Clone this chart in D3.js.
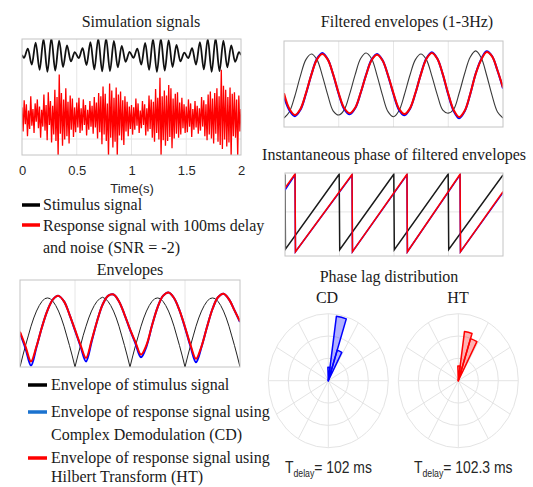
<!DOCTYPE html>
<html>
<head>
<meta charset="utf-8">
<style>
  body { margin: 0; background: #fff; }
  .serif { font-family: "Liberation Serif", "Times New Roman", serif; font-size: 16px; fill: #1a1a1a; }
  .sans { font-family: "Liberation Sans", Arial, sans-serif; fill: #262626; }
  .box { fill: none; stroke: #c4c4c4; stroke-width: 1; }
  .grid { stroke: #e6e6e6; stroke-width: 1; }
</style>
</head>
<body>
<script src="https://cdn.jsdelivr.net/npm/d3@7/dist/d3.min.js"></script>
<script>

// ---- data ----
var timeTicks = [0, 0.5, 1, 1.5, 2];
var timeLabels = ["0", "0.5", "1", "1.5", "2"];

// stimulus: extrema of the 14 Hz carrier (one every 1/28 s)
var stimPeaks = [
  -0.35, 0.8, -1.2, 1.55, -1.85, 2.0, -2.1, 2.1, -1.95, 1.8, -1.5, 1.2, -0.8, 0.35,
  -0.4, 0.85, -1.25, 1.6, -1.8, 2.05, -2.05, 2.1, -2.0, 1.75, -1.55, 1.15, -0.85, 0.4,
  -0.35, 0.8, -1.2, 1.5, -1.85, 2.0, -2.1, 2.05, -1.95, 1.85, -1.5, 1.25, -0.8, 0.3,
  -0.4, 0.85, -1.2, 1.6, -1.8, 2.0, -2.1, 2.1, -2.0, 1.8, -1.55, 1.2, -0.85, 0.35
];

// noisy response, one sample every 10 ms
var respNoisy = [
  1.2,-1.8,2.1,-0.9,1.6,-2.4,0.8,-1.5,2.6,-1.1, 1.0,-2.0,1.7,-0.6,2.2,-1.4,1.3,-2.6,0.9,-1.2,
  2.8,-1.7,1.5,-2.9,3.1,-1.0,2.0,-3.2,1.4,-2.2, 3.4,-3.0,2.5,-4.8,5.3,-2.1,3.0,-3.6,2.2,-2.8,
  3.6,-2.4,1.9,-3.3,2.7,-1.6,2.3,-2.5,1.2,-1.9,
  1.8,-1.3,2.4,-2.0,1.1,-1.7,2.2,-1.0,1.5,-2.3, 0.9,-1.6,2.0,-1.2,1.4,-2.1,2.5,-1.3,1.8,-2.7,
  3.0,-1.9,2.6,-3.4,3.8,-2.2,2.9,-3.0,1.7,-4.9, 4.2,-2.6,3.3,-3.8,2.4,-3.1,3.7,-5.0,2.8,-2.3,
  3.2,-2.9,2.1,-3.5,2.6,-1.8,1.9,-2.4,1.3,-1.5,
  1.5,-2.2,1.2,-1.6,2.3,-1.1,1.7,-2.0,0.8,-1.4, 2.0,-1.0,1.6,-2.3,1.1,-1.8,2.7,-1.5,2.2,-2.6,
  1.9,-3.1,3.5,-2.0,2.4,-2.8,4.9,-4.9,2.6,-2.9, 3.3,-3.6,2.7,-3.0,4.0,-2.5,3.6,-3.9,2.3,-2.7,
  2.9,-2.1,3.1,-2.6,1.8,-2.2,2.4,-1.4,1.6,-2.0,
  1.3,-1.9,2.2,-1.2,1.7,-2.5,1.0,-1.6,2.0,-1.3, 1.4,-2.1,1.1,-1.7,2.5,-1.2,2.1,-2.4,1.6,-2.9,
  2.8,-2.2,3.2,-2.7,2.3,-3.3,3.0,-2.1,3.6,-3.1, 2.6,-3.5,5.9,-4.0,3.9,-2.8,3.4,-3.7,2.5,-3.2,
  3.7,-4.9,2.9,-2.4,3.1,-2.6,2.2,-4.9,2.7,-1.8,
  1.0
];

// envelopes: stimulus every 25 ms, responses every 50 ms
var envStim = [
  0, .16, .31, .45, .59, .71, .81, .89, .95, .99, 1.0, .99, .95, .89, .81, .71, .59, .45, .31, .16,
  0, .16, .31, .46, .59, .71, .81, .89, .95, .99, 1.01, .99, .95, .89, .81, .71, .59, .45, .31, .16,
  0, .16, .31, .45, .59, .71, .81, .89, .95, .99, 1.0, .99, .95, .89, .81, .71, .59, .45, .31, .16,
  0, .16, .31, .45, .59, .71, .81, .89, .95, .99, 1.0, .99, .95, .89, .81, .71, .59, .45, .31, .16,
  0
];
var envHT = [
  0.51, 0.30, 0.08, 0.30, 0.58, 0.82, 0.98, 1.03, 0.95, 0.76, 0.54,
  0.32, 0.13, 0.38, 0.66, 0.90, 1.03, 1.05, 0.95, 0.76, 0.55,
  0.36, 0.18, 0.32, 0.60, 0.86, 1.03, 1.08, 1.00, 0.82, 0.58,
  0.32, 0.12, 0.30, 0.58, 0.84, 1.01, 1.06, 0.98, 0.82, 0.66
];
var envCD = [
  0.49, 0.27, 0.02, 0.29, 0.58, 0.82, 0.98, 1.03, 0.95, 0.76, 0.53,
  0.30, 0.08, 0.36, 0.66, 0.90, 1.03, 1.05, 0.95, 0.76, 0.54,
  0.34, 0.14, 0.30, 0.60, 0.86, 1.03, 1.08, 1.00, 0.82, 0.57,
  0.30, 0.07, 0.29, 0.58, 0.84, 1.01, 1.06, 0.98, 0.82, 0.65
];

// filtered envelopes (1-3 Hz), every 50 ms
var filtStim = [
  -1.13, -0.92, -0.39, 0.27, 0.81, 1.00, 0.82, 0.28, -0.37, -0.90, -1.03,
  -0.86, -0.33, 0.31, 0.85, 1.03, 0.84, 0.28, -0.38, -0.92, -1.09,
  -0.89, -0.35, 0.29, 0.81, 1.00, 0.81, 0.27, -0.36, -0.87, -0.97,
  -0.84, -0.30, 0.35, 0.89, 1.10, 0.88, 0.30, -0.38, -0.93, -1.13
];
var filtHT = [
  -0.31, -0.83, -1.03, -0.83, -0.31, 0.31, 0.81, 1.00, 0.81, 0.31, -0.31,
  -0.80, -0.97, -0.79, -0.29, 0.30, 0.79, 0.97, 0.78, 0.29, -0.31,
  -0.82, -1.00, -0.81, -0.30, 0.32, 0.83, 1.03, 0.84, 0.33, -0.32,
  -0.87, -1.10, -0.89, -0.34, 0.33, 0.80, 1.06, 0.92, 0.45, -0.12
];
var filtCD = [
  -0.43, -0.88, -1.07, -0.86, -0.33, 0.31, 0.83, 1.03, 0.82, 0.30, -0.34,
  -0.84, -1.01, -0.81, -0.30, 0.31, 0.81, 1.00, 0.79, 0.28, -0.34,
  -0.86, -1.04, -0.83, -0.31, 0.33, 0.85, 1.06, 0.85, 0.32, -0.35,
  -0.90, -1.14, -0.91, -0.35, 0.34, 0.82, 1.09, 0.93, 0.44, -0.15
];

// instantaneous phase (rad): [time, phase] at the corners of the sawtooth
var phaseStim = [[0, 3.1], [0.004, -3.08], [0.497, 3.12], [0.502, -3.12], [0.998, 3.12],
                 [1.003, -3.12], [1.497, 3.13], [1.502, -3.1], [2.0, 3.05]];
var phaseHT = [[0, 1.98], [0.092, 3.14], [0.096, -3.3], [0.615, 3.1], [0.619, -3.3],
               [1.119, 3.12], [1.123, -3.3], [1.606, 3.12], [1.61, -3.3], [2.0, 1.68]];
var phaseCD = [[0, 1.8], [0.092, 3.06], [0.096, -3.3], [0.615, 3.04], [0.619, -3.3],
               [1.119, 3.06], [1.123, -3.3], [1.606, 3.06], [1.61, -3.3], [2.0, 1.6]];

// phase lag histograms (bin edges in degrees, normalised counts)
var lagEdges = [-2, 8, 18, 28];
var lagCD = [0.2, 0.97, 0.48];
var lagHT = [0.22, 0.74, 0.66];

// ---- drawing ----
var svg = d3.select("body").append("svg")
  .attr("width", 533).attr("height", 487);

var defs = svg.append("defs");

function panel(id, x0, x1, y0, y1, ydom, vgrid, hgrid) {
  var x = d3.scaleLinear().domain([0, 2]).range([x0, x1]);
  var y = d3.scaleLinear().domain(ydom).range([y1, y0]);
  defs.append("clipPath").attr("id", id)
    .append("rect").attr("x", x0).attr("y", y0).attr("width", x1 - x0).attr("height", y1 - y0);
  var g = svg.append("g");
  g.selectAll(".vg").data(vgrid).enter().append("line").attr("class", "grid")
    .attr("x1", function(d) { return x(d); }).attr("x2", function(d) { return x(d); })
    .attr("y1", y0).attr("y2", y1);
  g.selectAll(".hg").data(hgrid).enter().append("line").attr("class", "grid")
    .attr("y1", function(d) { return y(d); }).attr("y2", function(d) { return y(d); })
    .attr("x1", x0).attr("x2", x1);
  var plot = g.append("g").attr("clip-path", "url(#" + id + ")");
  g.append("rect").attr("class", "box")
    .attr("x", x0).attr("y", y0).attr("width", x1 - x0).attr("height", y1 - y0);
  return {x: x, y: y, plot: plot, g: g};
}

function title(txt, cx, by) {
  svg.append("text").attr("class", "serif").attr("x", cx).attr("y", by)
    .attr("text-anchor", "middle").text(txt);
}

function swatch(x0, x1, yy, col) {
  svg.append("line").attr("x1", x0).attr("x2", x1).attr("y1", yy).attr("y2", yy)
    .attr("stroke", col).attr("stroke-width", 3.5);
}

function label(txt, x, by) {
  svg.append("text").attr("class", "serif").attr("x", x).attr("y", by).text(txt);
}

// Simulation signals
title("Simulation signals", 141, 27);
var sim = panel("clipSim", 22, 241, 39, 155, [-2, 12.5], [0.5, 1, 1.5], [0]);
var stimOffset = 10.5, respOffset = 2.75;

var noisePts = respNoisy.map(function(v, i) { return [i * 0.01, v]; });
sim.plot.append("path").datum(noisePts)
  .attr("fill", "none").attr("stroke", "#ff0000").attr("stroke-width", 1.3)
  .attr("d", d3.line()
    .x(function(d) { return sim.x(d[0]); })
    .y(function(d) { return sim.y(d[1] + respOffset); }));

var stimPts = [[0, 0]].concat(stimPeaks.map(function(v, i) { return [(i + 0.5) / 28, v]; }), [[2, 0]]);
sim.plot.append("path").datum(stimPts)
  .attr("fill", "none").attr("stroke", "#111").attr("stroke-width", 1.8)
  .attr("d", d3.line().curve(d3.curveMonotoneX)
    .x(function(d) { return sim.x(d[0]); })
    .y(function(d) { return sim.y(d[1] + stimOffset); }));

var axis = svg.append("g").attr("transform", "translate(0,155)")
  .call(d3.axisBottom(sim.x).tickValues(timeTicks)
    .tickFormat(function(d, i) { return timeLabels[i]; })
    .tickSize(0).tickPadding(11));
axis.select(".domain").remove();
axis.selectAll("text").attr("class", "sans").style("font-size", "13px")
  .style("font-family", "'Liberation Sans', Arial, sans-serif").attr("fill", "#262626");

svg.append("text").attr("class", "sans").attr("x", 132).attr("y", 193)
  .attr("text-anchor", "middle").style("font-size", "13px").text("Time(s)");

swatch(22, 40, 205, "#000");
label("Stimulus signal", 43, 210);
swatch(22, 40, 225, "#ff0000");
label("Response signal with 100ms delay", 43, 231);
label("and noise (SNR = -2)", 43, 253);

// Envelopes
title("Envelopes", 130, 275);
var env = panel("clipEnv", 20, 240, 280, 367, [0, 1.26], [0.5, 1, 1.5], []);
function envLine(arr, step, col, w, curve) {
  env.plot.append("path").datum(arr)
    .attr("fill", "none").attr("stroke", col).attr("stroke-width", w)
    .attr("d", d3.line().curve(curve)
      .x(function(d, i) { return env.x(i * step); })
      .y(function(d) { return env.y(d); }));
}
envLine(envStim, 0.025, "#222", 1, d3.curveLinear);
envLine(envCD, 0.05, "#0000ff", 2, d3.curveCatmullRom);
envLine(envHT, 0.05, "#ff0000", 2, d3.curveCatmullRom);

swatch(28, 47, 385, "#000");
label("Envelope of stimulus signal", 51, 390);
swatch(28, 47, 412, "#1a72cf");
label("Envelope of response signal using", 51, 417);
label("Complex Demodulation (CD)", 51, 440);
swatch(28, 47, 458, "#ff0000");
label("Envelope of response signal using", 51, 463);
label("Hilbert Transform (HT)", 51, 482);

// Filtered envelopes
title("Filtered envelopes (1-3Hz)", 407, 27);
var filt = panel("clipFilt", 284, 503, 41, 127, [-1.43, 1.43], [0.5, 1, 1.5], [0]);
function filtLine(arr, col, w) {
  filt.plot.append("path").datum(arr)
    .attr("fill", "none").attr("stroke", col).attr("stroke-width", w)
    .attr("d", d3.line().curve(d3.curveCatmullRom)
      .x(function(d, i) { return filt.x(i * 0.05); })
      .y(function(d) { return filt.y(d); }));
}
filtLine(filtStim, "#3a3a3a", 1.1);
filtLine(filtCD, "#0000ff", 2);
filtLine(filtHT, "#ff0000", 2);

// Instantaneous phase
title("Instantaneous phase of filtered envelopes", 394, 160);
var ph = panel("clipPh", 285, 503, 173, 256, [-3.65, 3.22], [0.5, 1, 1.5], [0]);
function phLine(arr, col, w) {
  ph.plot.append("path").datum(arr)
    .attr("fill", "none").attr("stroke", col).attr("stroke-width", w)
    .attr("d", d3.line()
      .x(function(d) { return ph.x(d[0]); })
      .y(function(d) { return ph.y(d[1]); }));
}
phLine(phaseStim, "#1a1a1a", 1.5);
phLine(phaseCD, "#0000ff", 1.5);
phLine(phaseHT, "#ff0000", 1.5);

// Phase lag distribution
title("Phase lag distribution", 389, 282);
title("CD", 327, 303);
title("HT", 458, 303);

function polar(cx, cy, counts, col, fillCol) {
  var rx = 60, ry = 67;
  var r = d3.scaleLinear().domain([0, 1]).range([0, rx]);
  var g = svg.append("g").attr("transform", "translate(" + cx + "," + cy + ") scale(1," + (ry / rx) + ")");
  g.selectAll(".ring").data([1 / 3, 2 / 3, 1]).enter().append("circle")
    .attr("r", function(d) { return r(d); })
    .attr("fill", "none").attr("stroke", "#e4e4e4").attr("vector-effect", "non-scaling-stroke");
  g.selectAll(".spoke").data(d3.range(0, 360, 30)).enter().append("line")
    .attr("x1", 0).attr("y1", 0)
    .attr("x2", function(d) { return r(1) * Math.sin(d * Math.PI / 180); })
    .attr("y2", function(d) { return -r(1) * Math.cos(d * Math.PI / 180); })
    .attr("stroke", "#e4e4e4").attr("vector-effect", "non-scaling-stroke");
  var arc = d3.arc().innerRadius(0);
  g.selectAll(".bar").data(counts).enter().append("path")
    .attr("d", function(d, i) {
      return arc({outerRadius: r(d),
        startAngle: lagEdges[i] * Math.PI / 180,
        endAngle: lagEdges[i + 1] * Math.PI / 180});
    })
    .attr("fill", fillCol).attr("stroke", col).attr("stroke-width", 1.5)
    .attr("stroke-linejoin", "round").attr("vector-effect", "non-scaling-stroke");
}
polar(328.3, 380.7, lagCD, "#0000ff", "rgba(0,0,255,0.3)");
polar(458.3, 380.7, lagHT, "#ff0000", "rgba(255,0,0,0.3)");

function delayLabel(x, val) {
  var t = svg.append("text").attr("class", "sans")
    .attr("transform", "translate(" + x + ",473) scale(0.87,1)")
    .style("font-size", "16px").attr("fill", "#1a1a1a");
  t.append("tspan").text("T");
  t.append("tspan").attr("dy", 4).style("font-size", "10px").text("delay");
  t.append("tspan").attr("dy", -4).text("= " + val + " ms");
}
delayLabel(285, "102");
delayLabel(414, "102.3");

</script>
</body>
</html>
